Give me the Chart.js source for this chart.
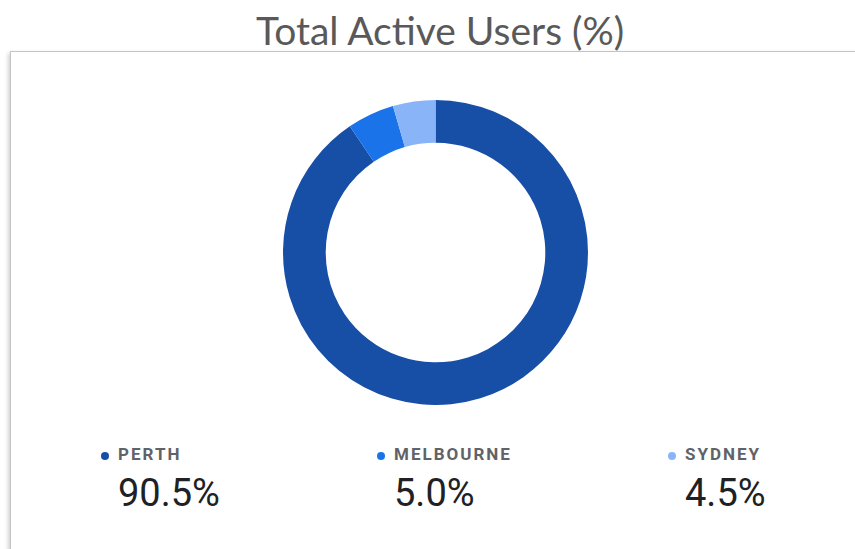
<!DOCTYPE html>
<html>
<head>
<meta charset="utf-8">
<script src="https://cdn.jsdelivr.net/npm/chart.js@4"></script>
<style>
  html, body { margin: 0; padding: 0; background: #fff; }
  body { width: 855px; height: 549px; position: relative; overflow: hidden; }
  #title {
    position: absolute; left: 0; width: 880px; top: 7px;
    text-align: center; font-family: Lato, sans-serif; font-size: 39px;
    color: #595959; line-height: 1.2;
  }
  #card {
    position: absolute; left: 10px; top: 51px; width: 860px; height: 520px;
    border: 1px solid #c4c4c4; box-shadow: -2px 2px 4px rgba(0,0,0,0.18);
    background: #fff;
  }
  #chartBox { position: absolute; left: 283px; top: 100px; width: 305px; height: 305px; }
  .item { position: absolute; top: 444px; font-family: Roboto, sans-serif; }
  .item .dot { position: absolute; left: 0; top: 8px; width: 8px; height: 8px; border-radius: 50%; }
  .item .lbl { position: absolute; left: 17px; top: 0; font-size: 17px; font-weight: bold;
    letter-spacing: 2px; color: #5f6368; white-space: nowrap; }
  .item .val { position: absolute; left: 17px; top: 27px; font-size: 38px; color: #202124; white-space: nowrap; }
</style>
</head>
<body>
<div id="title">Total Active Users (%)</div>
<div id="card"></div>
<div id="chartBox"><canvas id="myChart"></canvas></div>
<div id="legend"></div>
<script>
var cities = ['PERTH', 'MELBOURNE', 'SYDNEY'];
var shares = [90.5, 5.0, 4.5];
var colors = ['#174ea6', '#1a73e8', '#8ab4f8'];
var legendLeft = [101, 377, 668];

var legend = document.getElementById('legend');
cities.forEach(function (c, i) {
  var d = document.createElement('div');
  d.className = 'item';
  d.style.left = legendLeft[i] + 'px';
  d.innerHTML = '<span class="dot" style="background:' + colors[i] + '"></span>' +
    '<span class="lbl">' + c + '</span>' +
    '<span class="val">' + shares[i].toFixed(1) + '%</span>';
  legend.appendChild(d);
});

var ctx = document.getElementById('myChart').getContext('2d');
var myChart = new Chart(ctx, {
  type: 'doughnut',
  data: {
    labels: cities,
    datasets: [{
      data: shares,
      backgroundColor: colors,
      borderWidth: 0
    }]
  },
  options: {
    responsive: true,
    maintainAspectRatio: false,
    animation: false,
    cutout: '72%',
    plugins: {
      legend: { display: false },
      tooltip: { enabled: false }
    }
  }
});
</script>
</body>
</html>
